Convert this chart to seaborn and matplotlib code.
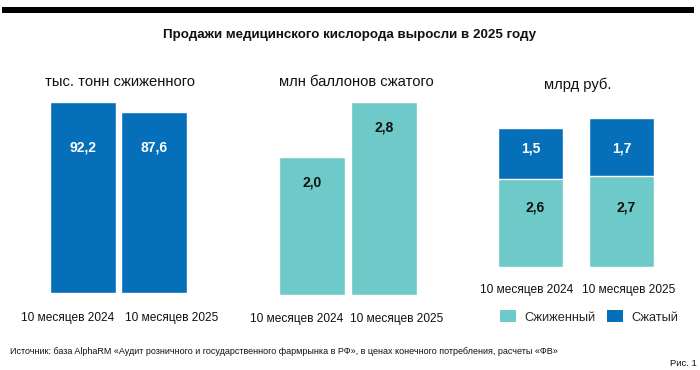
import matplotlib
matplotlib.use("Agg")
import matplotlib.pyplot as plt
import matplotlib.transforms as mtransforms
import seaborn as sns
import pandas as pd
from matplotlib.patches import Patch, Rectangle

sns.set_theme(style="white")
plt.rcParams['font.family'] = ['Liberation Sans', 'DejaVu Sans']

# ---- data ----
periods = ["10 месяцев 2024", "10 месяцев 2025"]
liquid_tonnes = [92.2, 87.6]
compressed_cyl = [2.0, 2.8]
rub_liquid = [2.6, 2.7]
rub_compressed = [1.5, 1.7]
panel_titles = ["тыс. тонн сжиженного", "млн баллонов сжатого", "млрд руб."]
legend_labels = ["Сжиженный", "Сжатый"]
title = "Продажи медицинского кислорода выросли в 2025 году"
source = "Источник: база AlphaRM «Аудит розничного и государственного фармрынка в РФ», в ценах конечного потребления, расчеты «ФВ»"
fig_label = "Рис. 1"

BLUE = "#0570b9"
TEAL = "#6dcac8"
INK = "#111111"

W, H = 700, 370
fig = plt.figure(figsize=(7, 3.7), dpi=100)


def box(x0, y_top, x1, y_bot):
    return [x0 / W, 1 - y_bot / H, (x1 - x0) / W, (y_bot - y_top) / H]


def fx(x):
    return x / W


def fy(y):
    return 1 - y / H


# top black rule
fig.add_artist(Rectangle((fx(2), fy(13)), 692 / W, 6 / H, transform=fig.transFigure,
                         color="black", lw=0))
fig.text(0.5, fy(35), title, ha="center", va="center", fontsize=9.6,
         fontweight="bold", color=INK)

TICK_FS = 8.6
TITLE_FS = 10.6
VAL_FS = 10


def style(ax, w, pad, shifts):
    ax.set_xlim(-w / 2, 1 + w / 2)
    for s in ax.spines.values():
        s.set_visible(False)
    ax.set_yticks([])
    ax.set_xlabel("")
    ax.set_ylabel("")
    ax.tick_params(axis="x", length=0, pad=pad, labelsize=TICK_FS, labelcolor=INK)
    for lab, dx in zip(ax.get_xticklabels(), shifts):
        off = mtransforms.ScaledTranslation(dx / 100, 0, fig.dpi_scale_trans)
        lab.set_transform(lab.get_transform() + off)


def fmt(v):
    return f"{v:.1f}".replace(".", ",")


# panel 1
w1 = 66 / 72
ax1 = fig.add_axes(box(50, 102, 187, 293))
df1 = pd.DataFrame({"p": periods, "v": liquid_tonnes})
sns.barplot(data=df1, x="p", y="v", ax=ax1, color=BLUE, width=w1, saturation=1, errorbar=None)
ax1.set_ylim(0, max(liquid_tonnes))
style(ax1, w1, 14, (-15, 17))
for i, v in enumerate(liquid_tonnes):
    ax1.text(i, max(liquid_tonnes) * 0.76, fmt(v), ha="center", va="center",
             color="white", fontsize=VAL_FS, fontweight="bold")
fig.text(fx(120), fy(82), panel_titles[0], ha="center", va="center", fontsize=TITLE_FS, color=INK)

# panel 2
w2 = 66 / 72
ax2 = fig.add_axes(box(279, 102, 417, 295))
df2 = pd.DataFrame({"p": periods, "v": compressed_cyl})
sns.barplot(data=df2, x="p", y="v", ax=ax2, color=TEAL, width=w2, saturation=1, errorbar=None)
ax2.set_ylim(0, max(compressed_cyl))
style(ax2, w2, 13, (-15, 13))
for i, v in enumerate(compressed_cyl):
    ax2.text(i, v - 0.37, fmt(v), ha="center", va="center",
             color=INK, fontsize=VAL_FS, fontweight="bold")
fig.text(fx(356), fy(82), panel_titles[1], ha="center", va="center", fontsize=TITLE_FS, color=INK)

# panel 3 (stacked)
w3 = 65 / 91
totals = [a + b for a, b in zip(rub_liquid, rub_compressed)]
ax3 = fig.add_axes(box(498, 118, 654, 267))
df3 = pd.DataFrame({"p": periods, "tot": totals, "liq": rub_liquid})
sns.barplot(data=df3, x="p", y="tot", ax=ax3, color=BLUE, width=w3, saturation=1, errorbar=None)
sns.barplot(data=df3, x="p", y="liq", ax=ax3, color=TEAL, width=w3, saturation=1, errorbar=None)
ax3.set_ylim(0, max(totals))
style(ax3, w3, 12, (-4, 7))
upper_y = sum(l + c / 2 for l, c in zip(rub_liquid, rub_compressed)) / 2 + 0.05
lower_y = min(rub_liquid) * 0.68
for i, (l, c) in enumerate(zip(rub_liquid, rub_compressed)):
    ax3.text(i + 0.05, lower_y, fmt(l), ha="center", va="center",
             color=INK, fontsize=VAL_FS, fontweight="bold")
    ax3.text(i, upper_y, fmt(c), ha="center", va="center",
             color="white", fontsize=VAL_FS, fontweight="bold")
fig.text(fx(578), fy(85), panel_titles[2], ha="center", va="center", fontsize=TITLE_FS, color=INK)

handles = [Patch(facecolor=TEAL, edgecolor="none"), Patch(facecolor=BLUE, edgecolor="none")]
fig.legend(handles, legend_labels, loc="center", bbox_to_anchor=(fx(589), fy(317)),
           ncol=2, frameon=False, fontsize=9.2, handlelength=1.25, handleheight=1.05,
           handletextpad=0.62, columnspacing=0.95, borderpad=0, borderaxespad=0)

fig.text(fx(10), fy(352), source, ha="left", va="center", fontsize=6.5, color=INK)
fig.text(fx(697), fy(364), fig_label, ha="right", va="center", fontsize=6.8, color=INK)

fig.savefig("out.png", dpi=100, facecolor="white")
